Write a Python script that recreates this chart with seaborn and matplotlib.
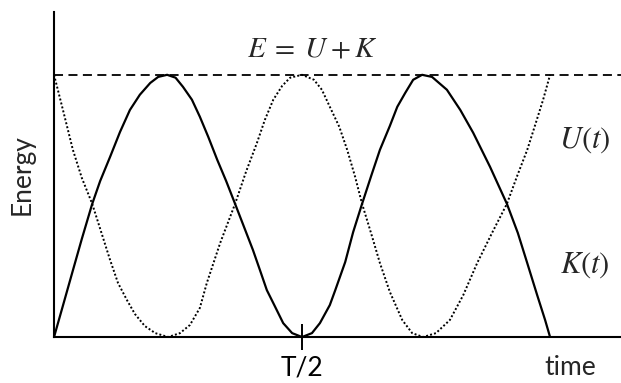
import matplotlib
matplotlib.use("Agg")
import matplotlib.pyplot as plt
import matplotlib.transforms as mtransforms
import pandas as pd
import seaborn as sns

# values: time in units of the period T, energy in units of E
k_time = [0.0, 0.018, 0.038, 0.056, 0.077, 0.093, 0.113, 0.133, 0.153, 0.173, 0.194,
          0.210, 0.228, 0.245, 0.260, 0.278, 0.294, 0.311, 0.329, 0.347, 0.365, 0.383,
          0.401, 0.415, 0.429, 0.444, 0.462, 0.480, 0.5, 0.520, 0.536, 0.556, 0.567,
          0.587, 0.603, 0.621, 0.640, 0.657, 0.677, 0.692, 0.708, 0.724, 0.742, 0.762,
          0.792, 0.819, 0.845, 0.879, 0.913, 0.935, 0.954, 0.974, 0.990, 1.0]
k_energy = [0.0, 0.120, 0.254, 0.374, 0.508, 0.595, 0.687, 0.782, 0.866, 0.924, 0.969,
            0.992, 1.0, 0.989, 0.954, 0.905, 0.840, 0.763, 0.676, 0.595, 0.508, 0.420,
            0.332, 0.256, 0.179, 0.122, 0.053, 0.015, 0.0, 0.015, 0.053, 0.122, 0.179,
            0.286, 0.400, 0.508, 0.618, 0.714, 0.805, 0.878, 0.931, 0.981, 1.0, 0.992,
            0.943, 0.866, 0.779, 0.649, 0.508, 0.397, 0.282, 0.160, 0.065, 0.0]

u_time = [0.0, 0.018, 0.038, 0.056, 0.077, 0.095, 0.113, 0.129, 0.147, 0.163, 0.183,
          0.204, 0.230, 0.254, 0.274, 0.294, 0.308, 0.335, 0.365, 0.387, 0.409, 0.425,
          0.442, 0.460, 0.476, 0.5, 0.524, 0.540, 0.556, 0.575, 0.591, 0.607, 0.621,
          0.639, 0.657, 0.677, 0.702, 0.722, 0.744, 0.770, 0.798, 0.825, 0.853, 0.883,
          0.913, 0.933, 0.954, 0.970, 0.986, 1.0]
u_energy = [1.0, 0.866, 0.714, 0.607, 0.508, 0.401, 0.294, 0.206, 0.141, 0.088, 0.042,
            0.015, 0.0, 0.015, 0.046, 0.111, 0.206, 0.359, 0.508, 0.630, 0.740, 0.828,
            0.905, 0.958, 0.989, 1.0, 0.981, 0.943, 0.878, 0.802, 0.714, 0.611, 0.508,
            0.397, 0.282, 0.172, 0.065, 0.015, 0.0, 0.015, 0.065, 0.160, 0.282, 0.397,
            0.508, 0.611, 0.714, 0.809, 0.905, 1.0]

E_total = 1.0
tick_pos = [0.5]
tick_labels = ["T/2"]

sns.set_style("white")
plt.rcParams["font.family"] = ["Lato", "DejaVu Sans"]
plt.rcParams["mathtext.fontset"] = "stix"

fig = plt.figure(figsize=(6.21, 3.83), dpi=100)
ax = fig.add_axes([0.087, 0.12, 0.913, 0.849])

df_k = pd.DataFrame({"t": k_time, "E": k_energy})
df_u = pd.DataFrame({"t": u_time, "E": u_energy})

sns.lineplot(data=df_k, x="t", y="E", ax=ax, color="black", linewidth=1.6,
             estimator=None, sort=False)
sns.lineplot(data=df_u, x="t", y="E", ax=ax, color="black", linewidth=1.4,
             linestyle=(0, (1, 1.1)), estimator=None, sort=False)
ax.axhline(E_total, color="black", linewidth=1.3, linestyle=(0, (5, 3)))

ax.set_xlim(0, 1.143)
ax.set_ylim(0, 1.24)

for side in ["top", "right"]:
    ax.spines[side].set_visible(False)
for side in ["left", "bottom"]:
    ax.spines[side].set_linewidth(1.5)
    ax.spines[side].set_color("black")

ax.set_xticks(tick_pos)
ax.set_xticklabels(tick_labels, fontsize=19)
ax.tick_params(axis="x", bottom=True, direction="inout", length=19, width=1.4,
               pad=4, colors="black")
ax.set_yticks([])
ax.set_xlabel("")
ax.set_ylabel("Energy", fontsize=19, labelpad=14)

trans = mtransforms.blended_transform_factory(ax.transData, ax.transAxes)
ax.text(1.04, -0.095, "time", transform=trans, fontsize=19, ha="center", va="center")

ax.text(0.52, 1.1, r"$E\;=\;U+K$", fontsize=21, ha="center", va="center")
ax.text(1.07, 0.75, r"$U(t)$", fontsize=22, ha="center", va="center")
ax.text(1.07, 0.275, r"$K(t)$", fontsize=22, ha="center", va="center")

fig.savefig("out.png", dpi=100)
